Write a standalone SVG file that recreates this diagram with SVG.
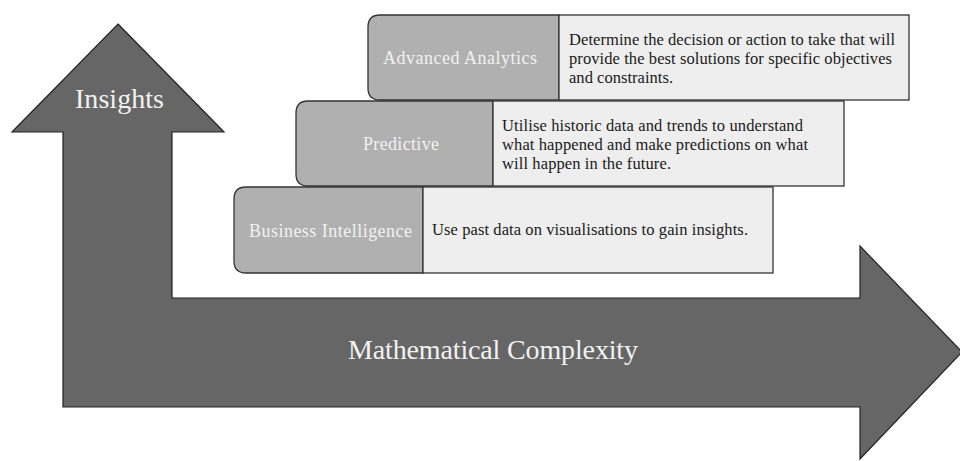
<svg xmlns="http://www.w3.org/2000/svg" width="960" height="461" viewBox="0 0 960 461">
<style>
.arrow{fill:#666666;stroke:#222222;stroke-width:1.2}
.lbl{fill:#b0b0b0;stroke:#333333;stroke-width:1.3}
.desc{fill:#eeeeee;stroke:#333333;stroke-width:1.3}
.lt{font-family:"Liberation Serif","Times New Roman",serif;font-size:18px;fill:#f2f2f2}
.dt{font-family:"Liberation Serif","Times New Roman",serif;font-size:16.5px;fill:#1a1a1a}
.big{font-family:"Liberation Serif","Times New Roman",serif;font-size:28px;fill:#f2f2f2}
</style>
<rect width="960" height="461" fill="#ffffff"/>
<g id="axes">
<polygon class="arrow" points="118,24 224,132 172,132 172,298 860,298 860,246 962,352 860,459 860,407 63,407 63,132 12,132"/>
<text class="big" x="75" y="108" textLength="89">Insights</text>
<text class="big" x="348" y="359" textLength="290">Mathematical Complexity</text>
</g>
<g id="advanced">
<path class="lbl" d="M559,15 L380,15 Q368,15 368,27 L368,88 Q368,100 380,100 L559,100 Z"/>
<rect class="desc" x="559" y="15" width="350" height="85"/>
<text class="lt" x="383" y="64" textLength="154">Advanced  Analytics</text>
<text class="dt" x="569" y="45" textLength="326">Determine the decision or action to take that will</text>
<text class="dt" x="569" y="64" textLength="323">provide the best solutions for specific objectives</text>
<text class="dt" x="569" y="83" textLength="104">and constraints.</text>
</g>
<g id="predictive">
<path class="lbl" d="M493,101 L308,101 Q296,101 296,113 L296,174 Q296,186 308,186 L493,186 Z"/>
<rect class="desc" x="493" y="101" width="351" height="85"/>
<text class="lt" x="363" y="150" textLength="76">Predictive</text>
<text class="dt" x="502" y="131" textLength="301">Utilise historic data and trends to understand</text>
<text class="dt" x="502" y="150" textLength="306">what happened and make predictions on what</text>
<text class="dt" x="502" y="169" textLength="169">will happen in the future.</text>
</g>
<g id="bi">
<path class="lbl" d="M423,187 L246,187 Q234,187 234,199 L234,261 Q234,273 246,273 L423,273 Z"/>
<rect class="desc" x="423" y="187" width="350" height="86"/>
<text class="lt" x="249" y="237" textLength="163">Business  Intelligence</text>
<text class="dt" x="432" y="235" textLength="316">Use past data on visualisations to gain insights.</text>
</g>
<g id="connectors"/>
</svg>
